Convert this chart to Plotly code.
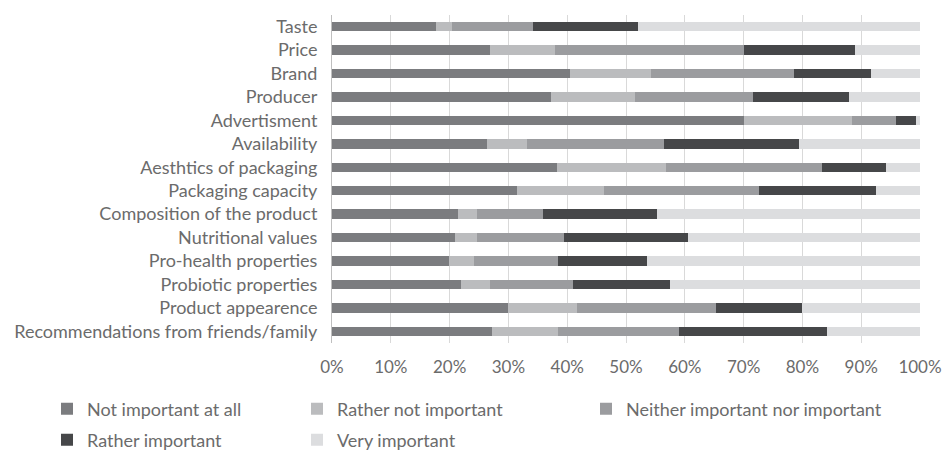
import plotly.graph_objects as go

categories = ["Taste", "Price", "Brand", "Producer", "Advertisment", "Availability",
              "Aesthtics of packaging", "Packaging capacity", "Composition of the product",
              "Nutritional values", "Pro-health properties", "Probiotic properties",
              "Product appearence", "Recommendations from friends/family"]

not_important = [17.7, 26.8, 40.5, 37.3, 70.0, 26.3, 38.3, 31.5, 21.5, 21.0, 19.9, 22.0, 29.9, 27.2]
rather_not = [2.7, 11.1, 13.7, 14.3, 18.5, 6.9, 18.5, 14.8, 3.2, 3.7, 4.3, 4.8, 11.7, 11.2]
neither = [13.8, 32.1, 24.3, 20.0, 7.4, 23.2, 26.5, 26.4, 11.1, 14.8, 14.2, 14.2, 23.7, 20.6]
rather_important = [17.9, 18.9, 13.1, 16.3, 3.5, 23.1, 10.9, 19.9, 19.4, 21.0, 15.2, 16.4, 14.7, 25.2]
very_important = [47.9, 11.1, 8.4, 12.1, 0.6, 20.5, 5.8, 7.4, 44.8, 39.5, 46.4, 42.6, 20.0, 15.8]

series_names = ["Not important at all", "Rather not important",
                "Neither important nor important", "Rather important", "Very important"]
series_values = [not_important, rather_not, neither, rather_important, very_important]
colors = ["#7b7c7f", "#bbbcbe", "#9b9c9f", "#464749", "#dcdddf"]
legend_ids = ["legend", "legend", "legend3", "legend2", "legend2"]

fig = go.Figure()
for name, vals, col, lg in zip(series_names, series_values, colors, legend_ids):
    fig.add_trace(go.Bar(y=categories, x=[v / 100 for v in vals], name=name,
                         orientation="h", legend=lg,
                         marker=dict(color=col, line=dict(width=0))))

PLOT_L, PLOT_R, PLOT_T, PLOT_B = 332, 920, 15, 343
W, H = 943, 453

def cx(px):
    return px / W

def cy(py):
    return 1 - py / H

legend_common = dict(orientation="h", xanchor="left", yanchor="middle",
                     xref="container", yref="container",
                     font=dict(size=18, color="#6b6b6b"), traceorder="normal",
                     bgcolor="rgba(0,0,0,0)")

fig.update_layout(
    barmode="stack",
    bargap=0.6,
    width=W, height=H,
    margin=dict(l=PLOT_L, r=W - PLOT_R, t=PLOT_T, b=H - PLOT_B),
    paper_bgcolor="white", plot_bgcolor="white",
    font=dict(family="Lato", size=18, color="#6b6b6b"),
    legend=dict(x=cx(47), y=cy(409), entrywidth=205, entrywidthmode="pixels", **legend_common),
    legend3=dict(x=cx(586), y=cy(409), **legend_common),
    legend2=dict(x=cx(47), y=cy(440), entrywidth=205, entrywidthmode="pixels", **legend_common),
    showlegend=True,
)
fig.update_xaxes(range=[0, 1], tickformat=".0%", dtick=0.1, showgrid=True,
                 gridcolor="#d9d9d9", gridwidth=1, zeroline=False, automargin=False,
                 showline=False, ticks="outside", ticklen=9, tickcolor="rgba(0,0,0,0)",
                 tickfont=dict(size=17, color="#6b6b6b"), fixedrange=True)
fig.update_yaxes(autorange="reversed", showline=True, linecolor="#bfbfbf", linewidth=1,
                 ticks="", ticklabelstandoff=10, tickfont=dict(size=18, color="#6b6b6b"),
                 showgrid=False, automargin=False, fixedrange=True)

fig.write_html("out.html", config={"displayModeBar": False},
               post_script="document.body.style.margin='0';document.body.style.overflow='hidden';")
